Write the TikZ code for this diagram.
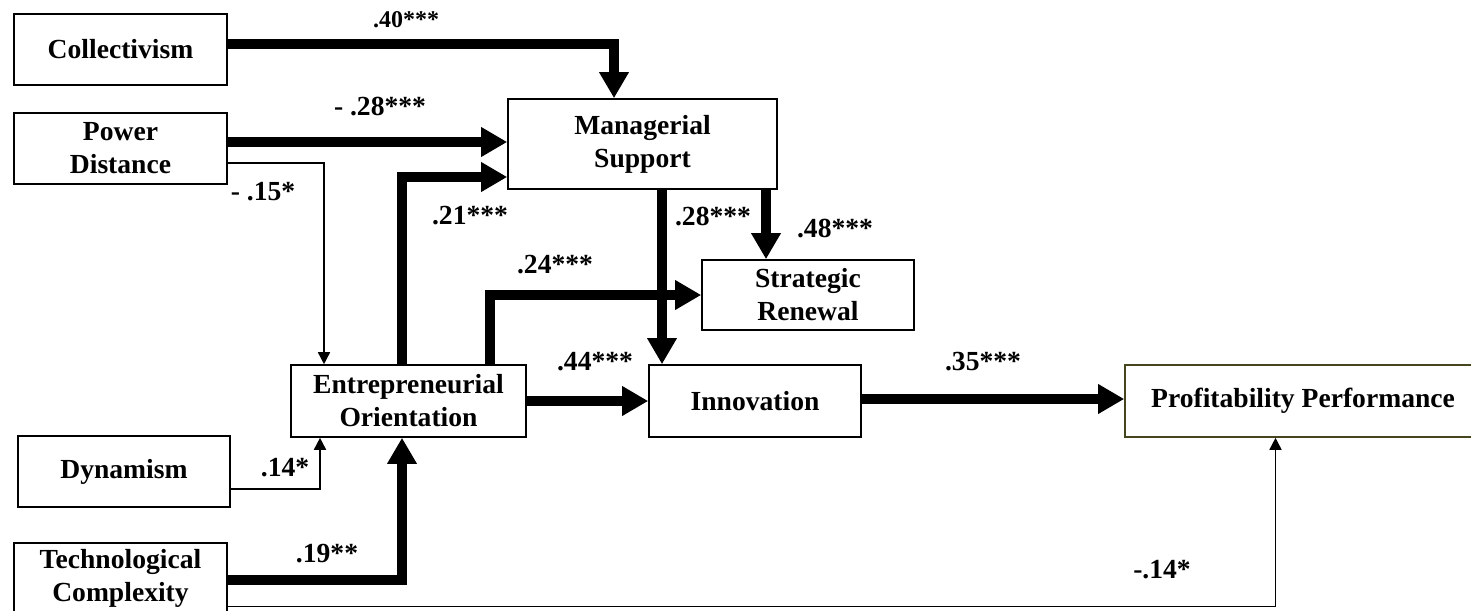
\documentclass[tikz,border=0pt]{standalone}
\usepackage{fontspec}
\setmainfont{Liberation Serif}
\usetikzlibrary{arrows.meta}
\definecolor{ppborder}{RGB}{70,70,30}
\begin{document}
\begin{tikzpicture}[x=0.5pt,y=-0.5pt,
  box/.style={draw=black,line width=0.8pt,inner sep=0pt,align=center,
    font=\fontsize{13.8}{16.5}\selectfont\bfseries},
  lbl/.style={inner sep=0pt,font=\fontsize{13.8}{16.5}\selectfont\bfseries},
  thk/.style={line width=5pt,line join=miter,-{Triangle[length=13pt,width=14pt]}},
  thn/.style={line width=0.8pt,-{Triangle[length=6pt,width=6pt]}}]
\useasboundingbox (0,0) rectangle (1471,610);
% boxes
\node[box,minimum width=106.5pt,minimum height=35.5pt] (coll) at (120.5,49.5) {Collectivism};
\node[box,minimum width=106.5pt,minimum height=35.5pt] (pd) at (120.5,148.5) {Power\\Distance};
\node[box,minimum width=134.5pt,minimum height=45pt] (ms) at (642.5,144) {Managerial\\Support};
\node[box,minimum width=106pt,minimum height=35pt] (sr) at (808,295) {Strategic\\Renewal};
\node[box,minimum width=117.5pt,minimum height=36pt] (eo) at (408.5,401) {Entrepreneurial\\Orientation};
\node[box,minimum width=106pt,minimum height=35.5pt] (dyn) at (124,471.5) {Dynamism};
\node[box,minimum width=106.5pt,minimum height=35pt] (tc) at (120.5,578) {Technological\\Complexity};
\node[box,minimum width=106pt,minimum height=36pt] (inn) at (755,401) {Innovation};
\node[box,draw=ppborder,minimum width=178pt,minimum height=36pt] (pp) at (1303,401) {Profitability Performance};
% connectors
\draw[thk] ([yshift=2.75pt]coll.east) -| ([xshift=-14.25pt]ms.north);
\draw[thk] ([yshift=3.25pt]pd.east) -- ([yshift=3.25pt]pd.east -| ms.west);
\draw[thn] ([yshift=-7.25pt]pd.east) -| ([xshift=-42.25pt]eo.north);
\draw[thk] ([xshift=-3.25pt]eo.north) |- ([yshift=-16.5pt]ms.west);
\draw[thk] ([xshift=40.75pt]eo.north) |- (sr.west);
\draw[thk] (eo.east) -- (inn.west);
\draw[thk] ([xshift=9.75pt]ms.south) -- ([xshift=9.75pt]ms.south |- inn.north);
\draw[thk] ([xshift=-21pt]sr.north |- ms.south) -- ([xshift=-21pt]sr.north);
\draw[thk] ([yshift=1pt]inn.east) -- ([yshift=1pt]pp.west);
\draw[thn] ([yshift=-8.75pt]dyn.east) -| ([xshift=-44.25pt]eo.south);
\draw[thk] ([yshift=-1pt]tc.east) -| ([xshift=-3.25pt]eo.south);
\draw[thn] ([yshift=-14.25pt]tc.east) -| ([xshift=-13.75pt]pp.south);
% labels
\node[lbl,font=\fontsize{12}{14}\selectfont\bfseries] (l40) at (406,20) {.40***};
\node[lbl] (l28a) at (380,107) {- .28***};
\node[lbl] (l15) at (263,192) {- .15*};
\node[lbl] (l21) at (470,216) {.21***};
\node[lbl] (l28b) at (713,217) {.28***};
\node[lbl] (l48) at (835,229) {.48***};
\node[lbl] (l24) at (555,265) {.24***};
\node[lbl] (l44) at (595,362) {.44***};
\node[lbl] (l35) at (983,362) {.35***};
\node[lbl] (l14) at (285,468) {.14*};
\node[lbl] (l19) at (327,554) {.19**};
\node[lbl] (l14n) at (1162,570) {-.14*};
\end{tikzpicture}
\end{document}
